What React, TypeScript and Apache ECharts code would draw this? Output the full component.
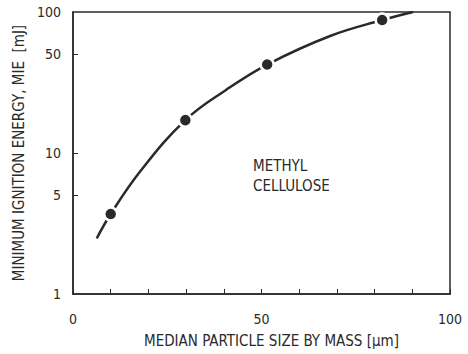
import React, { useEffect, useRef } from "react";
import * as echarts from "echarts";

// Fitted curve
const curveX = [6.3, 10, 17.8, 29.8, 40.6, 51.5, 68.2, 82, 90.2];
const curveY = [2.48, 3.69, 7.39, 17.1, 28.0, 42.4, 67.6, 87.7, 100];
// Measured points
const pointX = [10, 29.8, 51.5, 82];
const pointY = [3.69, 17.1, 42.4, 87.7];
// Tick labels
const xLabels = [0, 50, 100];
const yLabels = [1, 5, 10, 50, 100];

const FONT = "'Liberation Sans Narrow', 'DejaVu Sans Condensed', 'Liberation Sans', sans-serif";
const INK = "#2a2a2a";

export default function App() {
  const ref = useRef<HTMLDivElement>(null);
  useEffect(() => {
    if (!ref.current) return;
    const chart = echarts.init(ref.current, undefined, { renderer: "svg" });
    chart.setOption({
      animation: false,
      backgroundColor: "#ffffff",
      grid: {
        left: 73,
        right: 18,
        top: 12,
        bottom: 60,
        show: true,
        borderColor: INK,
        borderWidth: 1.5,
      },
      xAxis: {
        type: "value",
        min: 0,
        max: 100,
        interval: 10,
        name: "MEDIAN PARTICLE SIZE BY MASS [µm]",
        nameLocation: "middle",
        nameGap: 39,
        nameTextStyle: { fontFamily: FONT, fontSize: 15, color: INK, padding: [0, 0, 0, 20] },
        axisLine: { show: true, lineStyle: { color: INK, width: 1.5 } },
        axisTick: { show: true, inside: true, length: 5, lineStyle: { color: INK, width: 1 } },
        axisLabel: {
          customValues: xLabels,
          margin: 18,
          fontFamily: FONT,
          fontSize: 14,
          color: INK,
        },
        splitLine: { show: false },
      },
      yAxis: [
        {
          type: "log",
          logBase: 10,
          min: 1,
          max: 100,
          axisLine: { show: true, lineStyle: { color: INK, width: 1.5 } },
          axisTick: { show: false },
          axisLabel: { show: false },
          splitLine: { show: false },
        },
        {
          type: "value",
          position: "left",
          min: 0,
          max: 2,
          name: "MINIMUM IGNITION ENERGY, MIE  [mJ]",
          nameLocation: "middle",
          nameGap: 46,
          nameRotate: 90,
          nameTextStyle: { fontFamily: FONT, fontSize: 15, color: INK },
          axisLine: { show: false },
          axisTick: {
            show: true,
            inside: true,
            length: 5,
            customValues: [Math.log10(5), 1, Math.log10(50)],
            lineStyle: { color: INK, width: 1 },
          },
          axisLabel: {
            customValues: yLabels.map((v) => Math.log10(v)),
            formatter: (v: number) => String(Math.round(Math.pow(10, v))),
            margin: 12,
            fontFamily: FONT,
            fontSize: 14,
            color: INK,
          },
          splitLine: { show: false },
        },
      ],
      series: [
        {
          type: "line",
          yAxisIndex: 0,
          data: curveX.map((x, i) => [x, curveY[i]]),
          smooth: 0.4,
          showSymbol: false,
          lineStyle: { color: INK, width: 2.5 },
          z: 2,
        },
        {
          type: "scatter",
          yAxisIndex: 0,
          data: pointX.map((x, i) => [x, pointY[i]]),
          symbol: "circle",
          symbolSize: 13,
          itemStyle: { color: INK, opacity: 1, borderColor: "#ffffff", borderWidth: 2.5 },
          z: 3,
        },
      ],
      graphic: [
        {
          type: "text",
          left: 253,
          top: 156,
          style: {
            text: "METHYL\nCELLULOSE",
            fontFamily: FONT,
            fontSize: 15,
            lineHeight: 20,
            fill: INK,
          },
        },
      ],
    });
    return () => chart.dispose();
  }, []);
  return (
    <div
      ref={ref}
      style={{ position: "absolute", left: 0, top: 0, width: 468, height: 354 }}
    />
  );
}
